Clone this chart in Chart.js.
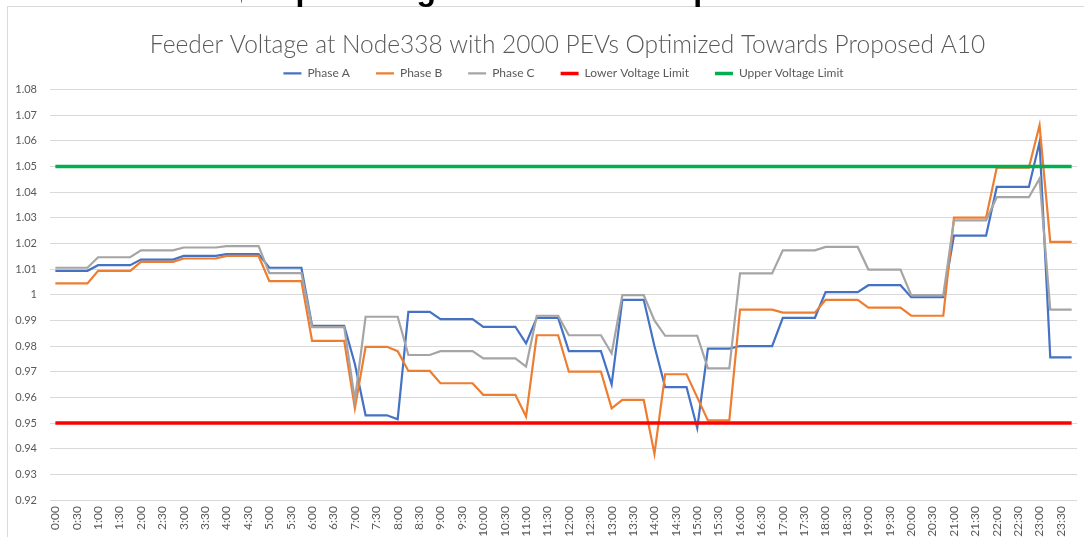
<!DOCTYPE html>
<html>
<head>
<meta charset="utf-8">
<script src="https://cdn.jsdelivr.net/npm/chart.js@4.4.0/dist/chart.umd.min.js"></script>
<style>
  html, body { margin: 0; padding: 0; background: #ffffff; overflow: hidden; }
  #wrap { position: relative; width: 1084px; height: 537px; overflow: hidden; }
  #c { position: absolute; left: 0; top: 0; }
  #frame { position: absolute; left: 7px; top: 6px; width: 1200px; height: 700px;
           border-top: 1px solid #d9d9d9; border-left: 1px solid #d9d9d9; pointer-events: none; }
  #slideTitle { position: absolute; left: 241px; top: 0; width: 843px; height: 20px; overflow: hidden; pointer-events: none; }
  #stText { position: absolute; top: -27px; left: 0; font: bold 32px "Liberation Sans", Arial, sans-serif;
            line-height: 32px; color: #000; white-space: nowrap; }
</style>
</head>
<body>
<div id="wrap">
  <canvas id="c" width="1084" height="537"></canvas>
  <div id="frame"></div>
  <div id="slideTitle"><span id="stText">PEV Charge Optimizing Towards the Proposed A10 Rate</span></div>
</div>
<script>
// ---- Data ----
const timeLabels = [
  "0:00","0:15","0:30","0:45","1:00","1:15","1:30","1:45",
  "2:00","2:15","2:30","2:45","3:00","3:15","3:30","3:45",
  "4:00","4:15","4:30","4:45","5:00","5:15","5:30","5:45",
  "6:00","6:15","6:30","6:45","7:00","7:15","7:30","7:45",
  "8:00","8:15","8:30","8:45","9:00","9:15","9:30","9:45",
  "10:00","10:15","10:30","10:45","11:00","11:15","11:30","11:45",
  "12:00","12:15","12:30","12:45","13:00","13:15","13:30","13:45",
  "14:00","14:15","14:30","14:45","15:00","15:15","15:30","15:45",
  "16:00","16:15","16:30","16:45","17:00","17:15","17:30","17:45",
  "18:00","18:15","18:30","18:45","19:00","19:15","19:30","19:45",
  "20:00","20:15","20:30","20:45","21:00","21:15","21:30","21:45",
  "22:00","22:15","22:30","22:45","23:00","23:15","23:30","23:45"
];

const phaseA = [
  1.0093,1.0093,1.0093,1.0093, 1.0115,1.0115,1.0115,1.0115,
  1.0137,1.0137,1.0137,1.0137, 1.0151,1.0151,1.0151,1.0151,
  1.0158,1.0158,1.0158,1.0158, 1.0105,1.0105,1.0105,1.0105,
  0.9879,0.9879,0.9879,0.9879, 0.973,0.953,0.953,0.953,
  0.9515,0.9933,0.9933,0.9933, 0.9905,0.9905,0.9905,0.9905,
  0.9875,0.9875,0.9875,0.9875, 0.981,0.991,0.991,0.991,
  0.978,0.978,0.978,0.978, 0.965,0.998,0.998,0.998,
  0.980,0.964,0.964,0.964, 0.948,0.979,0.979,0.979,
  0.980,0.980,0.980,0.980, 0.991,0.991,0.991,0.991,
  1.001,1.001,1.001,1.001, 1.0037,1.0037,1.0037,1.0037,
  0.999,0.999,0.999,0.999, 1.023,1.023,1.023,1.023,
  1.042,1.042,1.042,1.042, 1.0595,0.9756,0.9756,0.9756
];

const phaseB = [
  1.0044,1.0044,1.0044,1.0044, 1.0093,1.0093,1.0093,1.0093,
  1.0128,1.0128,1.0128,1.0128, 1.0141,1.0141,1.0141,1.0141,
  1.0151,1.0151,1.0151,1.0151, 1.0053,1.0053,1.0053,1.0053,
  0.982,0.982,0.982,0.982, 0.9557,0.9797,0.9797,0.9797,
  0.978,0.9703,0.9703,0.9703, 0.9655,0.9655,0.9655,0.9655,
  0.961,0.961,0.961,0.961, 0.9525,0.9842,0.9842,0.9842,
  0.970,0.970,0.970,0.970, 0.9557,0.959,0.959,0.959,
  0.938,0.969,0.969,0.969, 0.960,0.951,0.951,0.951,
  0.9942,0.9942,0.9942,0.9942, 0.993,0.993,0.993,0.993,
  0.998,0.998,0.998,0.998, 0.995,0.995,0.995,0.995,
  0.9918,0.9918,0.9918,0.9918, 1.030,1.030,1.030,1.030,
  1.0495,1.0495,1.0495,1.0495, 1.066,1.0206,1.0206,1.0206
];

const phaseC = [
  1.0105,1.0105,1.0105,1.0105, 1.0146,1.0146,1.0146,1.0146,
  1.0173,1.0173,1.0173,1.0173, 1.0184,1.0184,1.0184,1.0184,
  1.0189,1.0189,1.0189,1.0189, 1.0084,1.0084,1.0084,1.0084,
  0.9874,0.9874,0.9874,0.9874, 0.959,0.9914,0.9914,0.9914,
  0.9914,0.9765,0.9765,0.9765, 0.978,0.978,0.978,0.978,
  0.9752,0.9752,0.9752,0.9752, 0.972,0.9918,0.9918,0.9918,
  0.9842,0.9842,0.9842,0.9842, 0.9771,0.9998,0.9998,0.9998,
  0.990,0.984,0.984,0.984, 0.984,0.9713,0.9713,0.9713,
  1.0083,1.0083,1.0083,1.0083, 1.0173,1.0173,1.0173,1.0173,
  1.0186,1.0186,1.0186,1.0186, 1.0098,1.0098,1.0098,1.0098,
  0.9998,0.9998,0.9998,0.9998, 1.029,1.029,1.029,1.029,
  1.038,1.038,1.038,1.038, 1.0452,0.9942,0.9942,0.9942
];

const lowerLimit = [
  0.95,0.95,0.95,0.95,0.95,0.95,0.95,0.95,0.95,0.95,0.95,0.95,
  0.95,0.95,0.95,0.95,0.95,0.95,0.95,0.95,0.95,0.95,0.95,0.95,
  0.95,0.95,0.95,0.95,0.95,0.95,0.95,0.95,0.95,0.95,0.95,0.95,
  0.95,0.95,0.95,0.95,0.95,0.95,0.95,0.95,0.95,0.95,0.95,0.95,
  0.95,0.95,0.95,0.95,0.95,0.95,0.95,0.95,0.95,0.95,0.95,0.95,
  0.95,0.95,0.95,0.95,0.95,0.95,0.95,0.95,0.95,0.95,0.95,0.95,
  0.95,0.95,0.95,0.95,0.95,0.95,0.95,0.95,0.95,0.95,0.95,0.95,
  0.95,0.95,0.95,0.95,0.95,0.95,0.95,0.95,0.95,0.95,0.95,0.95
];

const upperLimit = [
  1.05,1.05,1.05,1.05,1.05,1.05,1.05,1.05,1.05,1.05,1.05,1.05,
  1.05,1.05,1.05,1.05,1.05,1.05,1.05,1.05,1.05,1.05,1.05,1.05,
  1.05,1.05,1.05,1.05,1.05,1.05,1.05,1.05,1.05,1.05,1.05,1.05,
  1.05,1.05,1.05,1.05,1.05,1.05,1.05,1.05,1.05,1.05,1.05,1.05,
  1.05,1.05,1.05,1.05,1.05,1.05,1.05,1.05,1.05,1.05,1.05,1.05,
  1.05,1.05,1.05,1.05,1.05,1.05,1.05,1.05,1.05,1.05,1.05,1.05,
  1.05,1.05,1.05,1.05,1.05,1.05,1.05,1.05,1.05,1.05,1.05,1.05,
  1.05,1.05,1.05,1.05,1.05,1.05,1.05,1.05,1.05,1.05,1.05,1.05
];

const chartTitle = "Feeder Voltage at Node338 with 2000 PEVs Optimized Towards Proposed A10";
const yMin = 0.92, yMax = 1.08, yStep = 0.01;

// ---- Clipped slide heading: put the "e" of "Charge" at x≈244 ----
(function () {
  const span = document.getElementById('stText');
  const m = document.createElement('canvas').getContext('2d');
  m.font = 'bold 32px "Liberation Sans", Arial, sans-serif';
  const pre = m.measureText('PEV Charg').width;
  span.style.left = (244 - 241 - pre) + 'px';
})();

// shift title / legend horizontally (Excel centres them on the outer frame, not the canvas)
const headerShift = {
  id: 'headerShift',
  afterLayout(chart) {
    const t = chart.titleBlock;
    if (t) { t.left += 25; t.right += 25; }
    const l = chart.legend;
    if (l) { l.left += 21; l.right += 21; }
  }
};

// ---- Chart ----
const textGray = '#595959';
new Chart(document.getElementById('c'), {
  type: 'line',
  plugins: [headerShift],
  data: {
    labels: timeLabels,
    datasets: [
      { label: 'Upper Voltage Limit', data: upperLimit, borderColor: '#00B050', backgroundColor: '#00B050', borderWidth: 3.5 },
      { label: 'Lower Voltage Limit', data: lowerLimit, borderColor: '#FF0000', backgroundColor: '#FF0000', borderWidth: 3.5 },
      { label: 'Phase C', data: phaseC, borderColor: '#A5A5A5', backgroundColor: '#A5A5A5', borderWidth: 2.2 },
      { label: 'Phase B', data: phaseB, borderColor: '#ED7D31', backgroundColor: '#ED7D31', borderWidth: 2.2 },
      { label: 'Phase A', data: phaseA, borderColor: '#4472C4', backgroundColor: '#4472C4', borderWidth: 2.2 }
    ]
  },
  options: {
    responsive: false,
    animation: false,
    devicePixelRatio: 1,
    layout: { padding: { left: 8, right: 7, top: 0, bottom: 0 } },
    elements: { point: { radius: 0, hoverRadius: 0 }, line: { tension: 0, fill: false } },
    plugins: {
      tooltip: { enabled: false },
      title: {
        display: true,
        text: chartTitle,
        color: textGray,
        font: { family: 'Lato', size: 24.5, weight: '300', lineHeight: 1.2 },
        padding: { top: 30, bottom: -18 }
      },
      legend: {
        display: true,
        reverse: true,
        labels: {
          usePointStyle: true,
          pointStyle: 'line',
          pointStyleWidth: 18,
          boxHeight: 12,
          color: textGray,
          font: { family: 'Lato', size: 12 },
          padding: 26
        }
      }
    },
    scales: {
      x: {
        offset: true,
        grid: { display: false, drawTicks: true, tickLength: 6, tickColor: 'rgba(0,0,0,0)' },
        border: { display: false },
        ticks: {
          autoSkip: false,
          minRotation: 90,
          maxRotation: 90,
          padding: 0,
          color: textGray,
          font: { family: 'Lato', size: 12 },
          callback: function (v, i) { return i % 2 === 0 ? timeLabels[i] : null; }
        },
        afterFit: function (s) { s.height = 37; }
      },
      y: {
        min: yMin,
        max: yMax,
        grid: { color: '#D9D9D9', lineWidth: 1, drawTicks: false },
        border: { display: false },
        ticks: {
          stepSize: yStep,
          maxTicksLimit: 30,
          padding: 13,
          color: textGray,
          font: { family: 'Lato', size: 11 },
          callback: function (v) { return String(+Number(v).toFixed(2)); }
        },
        afterFit: function (s) { s.width = 42; }
      }
    }
  }
});
</script>
</body>
</html>
